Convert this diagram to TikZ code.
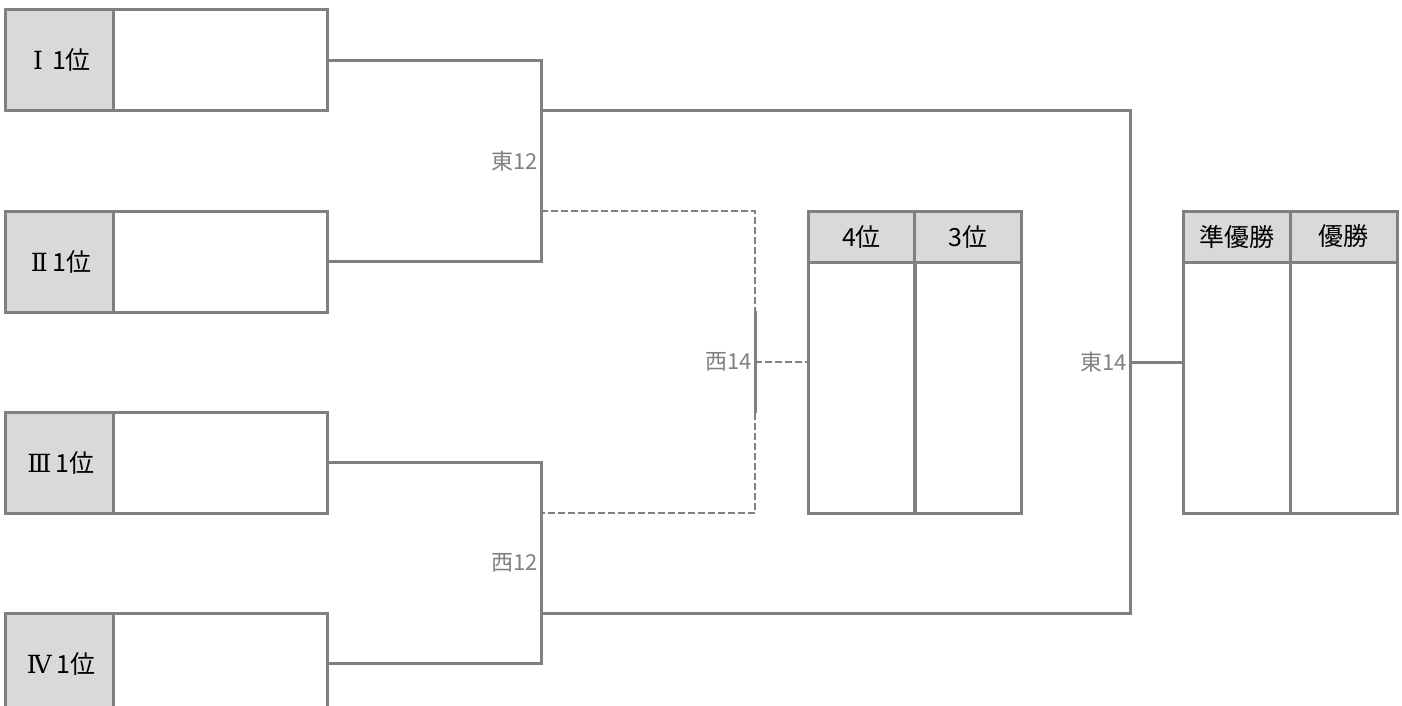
\documentclass[tikz,border=0pt]{standalone}
\usepackage{fontspec}
\newfontfamily\jpfont{Noto Sans CJK JP}
\newfontfamily\numeralfont{DejaVu Serif}
\definecolor{linegray}{HTML}{808080}
\definecolor{cellgray}{HTML}{D9D9D9}
\begin{document}
\begin{tikzpicture}[x=1pt, y=-1pt,
  cell/.style={draw=linegray, line width=3pt, inner sep=0pt, font=\jpfont\fontsize{25}{29}\selectfont},
  rankcell/.style={cell, fill=cellgray, minimum width=108pt, minimum height=101pt},
  slotcell/.style={cell, minimum width=214pt, minimum height=101pt},
  headcell/.style={cell, fill=cellgray, minimum width=107pt, minimum height=51pt},
  bodycell/.style={cell, minimum width=107pt, minimum height=251pt},
  wire/.style={linegray, line width=3pt},
  loserwire/.style={linegray, line width=2.5pt, dash pattern=on 7pt off 3pt},
  matchlabel/.style={text=linegray, inner sep=3pt, anchor=east, font=\jpfont\fontsize{22}{26}\selectfont}]
\useasboundingbox (0,0) rectangle (1402,706);
\node[rankcell] (r1) at (59,60.5) {\hspace{6pt}{\numeralfont Ⅰ}\hspace{9pt}1位};
\node[slotcell] (s1) at (220,60.5) {};
\node[rankcell] (r2) at (59,261.5) {\hspace{4pt}{\numeralfont Ⅱ}\,1位};
\node[rankcell] (r3) at (59,462.5) {\hspace{4pt}{\numeralfont Ⅲ}\,1位};
\node[rankcell] (r4) at (59,663.5) {\hspace{4pt}{\numeralfont Ⅳ}\,1位};
\node[slotcell] (s2) at (220,261.5) {};
\node[slotcell] (s3) at (220,462.5) {};
\node[slotcell] (s4) at (220,663.5) {};
\node[headcell] (h4) at (861.5,236.5) {4位};
\node[headcell] (h3) at (968,236.5) {3位};
\node[bodycell] (b4) at (861.5,387.5) {};
\node[bodycell] (b3) at (968,387.5) {};
\node[headcell] (h2) at (1236.5,236.5) {準優勝};
\node[headcell] (h1) at (1343.5,236.5) {優勝};
\node[bodycell] (b2) at (1236.5,387.5) {};
\node[bodycell] (b1) at (1343.5,387.5) {};
\coordinate (sf1) at (541,161);
\coordinate (sf1win) at (541,111);
\coordinate (sf1lose) at (541,211);
\coordinate (sf2) at (541,563);
\coordinate (sf2win) at (541,613);
\coordinate (sf2lose) at (541,513);
\coordinate (fin) at (1130,362);
\coordinate (bronze) at (755,362);
\coordinate (bronzetop) at (755,311);
\coordinate (bronzebot) at (755,413);
\draw[wire] (s1.east) -| (sf1) |- (s2.east);
\draw[wire] (s3.east) -| (sf2) |- (s4.east);
\draw[wire] (sf1win) -| (fin) |- (sf2win);
\draw[wire] (fin) -- (fin -| b2.west);
\draw[loserwire] (sf1lose) -| (bronzetop);
\draw[wire] (bronzetop) -- (bronzebot);
\draw[loserwire] (bronzebot) |- (sf2lose);
\draw[loserwire] (bronze) -- (bronze -| b4.west);
\node[matchlabel] (l-sf1) at (sf1) {東12};
\node[matchlabel] (l-sf2) at (sf2) {西12};
\node[matchlabel] (l-bronze) at (bronze) {西14};
\node[matchlabel] (l-fin) at (fin) {東14};
\end{tikzpicture}
\end{document}
